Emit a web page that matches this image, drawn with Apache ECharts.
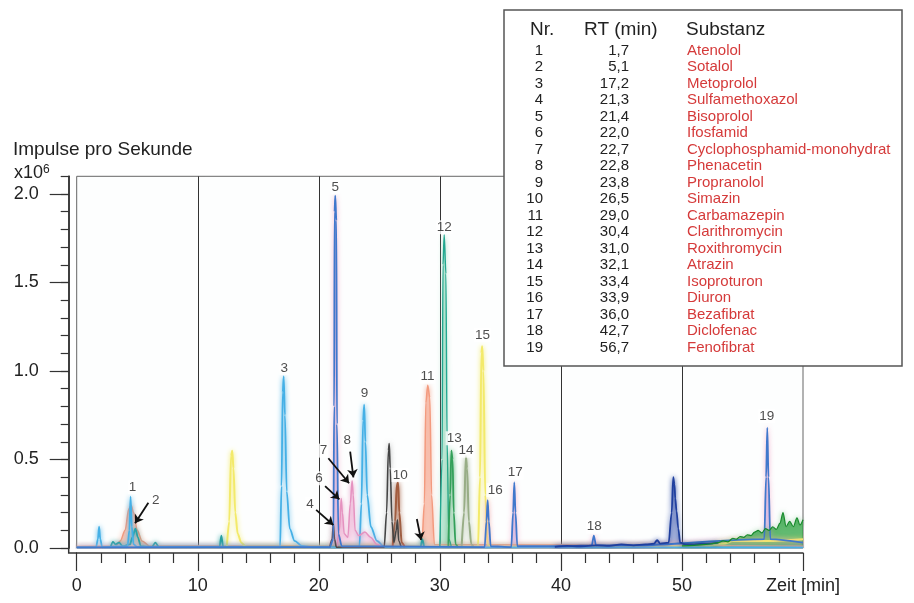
<!DOCTYPE html>
<html>
<head>
<meta charset="utf-8">
<script src="https://cdn.jsdelivr.net/npm/echarts@6/dist/echarts.min.js"></script>
<style>
  html, body { margin: 0; padding: 0; background: #fff; }
  #chart { width: 914px; height: 603px; }
</style>
</head>
<body>
<div id="chart"></div>
<script>
// Schriftart fuer alle Texte
const FONT = '"Liberation Sans", Arial, sans-serif';

// Achsenbeschriftung
const yMajorTicks = [0, 0.5, 1.0, 1.5, 2.0];

// Tabelle der Substanzen
const substanzNr = ['1', '2', '3', '4', '5', '6', '7', '8', '9', '10',
  '11', '12', '13', '14', '15', '16', '17', '18', '19'];
const retentionszeit = ['1,7', '5,1', '17,2', '21,3', '21,4', '22,0', '22,7', '22,8', '23,8', '26,5',
  '29,0', '30,4', '31,0', '32,1', '33,4', '33,9', '36,0', '42,7', '56,7'];
const substanzen = ['Atenolol', 'Sotalol', 'Metoprolol', 'Sulfamethoxazol', 'Bisoprolol', 'Ifosfamid',
  'Cyclophosphamid-monohydrat', 'Phenacetin', 'Propranolol', 'Simazin', 'Carbamazepin',
  'Clarithromycin', 'Roxithromycin', 'Atrazin', 'Isoproturon', 'Diuron', 'Bezafibrat',
  'Diclofenac', 'Fenofibrat'];

// Spuren [Zeit min, Impulse x10^6]
const spurHellblau = [[0, 0.004], [1.6, 0.004], [1.75, 0.05], [1.85, 0.12], [1.95, 0.05], [2.1, 0.004],
  [4.2, 0.01], [4.35, 0.1], [4.45, 0.29], [4.55, 0.12], [4.7, 0.02], [5.0, 0.006],
  [16.8, 0.004], [16.92, 0.35], [17.02, 0.88], [17.1, 0.97], [17.2, 0.75], [17.35, 0.32], [17.6, 0.11],
  [18.0, 0.04], [18.6, 0.012], [19.5, 0.004],
  [23.35, 0.004], [23.52, 0.25], [23.66, 0.72], [23.75, 0.81], [23.85, 0.6], [24.0, 0.3], [24.3, 0.12],
  [24.8, 0.04], [25.4, 0.008], [26, 0.004], [60, 0.004]];
const spurBlau = [[0, 0.004], [20.9, 0.005], [21.2, 0.05], [21.27, 0.8], [21.3, 1.9], [21.36, 1.99],
  [21.45, 1.85], [21.5, 0.7], [21.62, 0.08], [21.9, 0.01],
  [33.7, 0.005], [33.85, 0.15], [33.95, 0.27], [34.05, 0.15], [34.2, 0.01],
  [35.9, 0.005], [36.05, 0.2], [36.15, 0.37], [36.25, 0.2], [36.4, 0.01],
  [40, 0.01], [42.55, 0.015], [42.72, 0.07], [42.9, 0.015], [46, 0.015],
  [56.8, 0.05], [56.95, 0.4], [57.05, 0.68], [57.15, 0.4], [57.3, 0.05], [60, 0.03]];
const spurDunkelblau = [[39.5, 0.006], [40.5, 0.012], [41.5, 0.01], [43, 0.015], [44, 0.012], [45, 0.02],
  [46, 0.015], [47, 0.02], [47.7, 0.025], [47.95, 0.045], [48.2, 0.025], [48.9, 0.03], [49.15, 0.2],
  [49.28, 0.4], [49.38, 0.36], [49.45, 0.28], [49.55, 0.21], [49.7, 0.11], [49.85, 0.03], [50.3, 0.02],
  [51, 0.02], [52, 0.025], [53, 0.03]];
const spurSchwarz = [[20.9, 0.004], [21.1, 0.05], [21.2, 0.14], [21.3, 0.05], [21.45, 0.005],
  [25.4, 0.004], [25.6, 0.2], [25.75, 0.55], [25.82, 0.59], [25.9, 0.45], [26.05, 0.15], [26.2, 0.03],
  [26.4, 0.1], [26.5, 0.16], [26.6, 0.04], [26.8, 0.005]];
const spurRosa = [[21.5, 0.005], [21.7, 0.1], [21.85, 0.28], [21.95, 0.2], [22.1, 0.08], [22.4, 0.06],
  [22.6, 0.25], [22.75, 0.38], [22.85, 0.3], [23.0, 0.1], [23.3, 0.07], [23.8, 0.09], [24.3, 0.06],
  [24.8, 0.02], [25.2, 0.005]];
const spurBraun = [[26.1, 0.005], [26.3, 0.15], [26.45, 0.36], [26.55, 0.37], [26.65, 0.2], [26.85, 0.03],
  [27.1, 0.005]];
const spurLachs = [[0, 0.008], [3.2, 0.01], [3.6, 0.04], [4.0, 0.1], [4.3, 0.22], [4.5, 0.24], [4.7, 0.2],
  [5.0, 0.1], [5.4, 0.04], [6, 0.012], [28.5, 0.01], [28.72, 0.25], [28.84, 0.82], [29.0, 0.92],
  [29.17, 0.85], [29.32, 0.3], [29.55, 0.02], [60, 0.01]];
const spurGelb = [[12.4, 0.005], [12.6, 0.15], [12.75, 0.52], [12.85, 0.55], [12.95, 0.45], [13.1, 0.2],
  [13.3, 0.08], [13.6, 0.03], [14, 0.005],
  [33.15, 0.005], [33.32, 0.4], [33.43, 1.1], [33.5, 1.14], [33.6, 1.0], [33.75, 0.3], [33.95, 0.02],
  [34.3, 0.005], [52, 0.01], [53.5, 0.025], [54.2, 0.04], [57, 0.04], [60, 0.05]];
const spurPetrol = [[2.8, 0.005], [3.0, 0.035], [3.2, 0.02], [3.5, 0.03], [3.8, 0.01], [4.4, 0.02],
  [4.6, 0.06], [4.85, 0.11], [5.05, 0.06], [5.3, 0.01], [6.2, 0.005], [6.5, 0.03], [6.8, 0.005],
  [11.8, 0.005], [11.95, 0.07], [12.1, 0.005], [28.4, 0.005], [28.55, 0.05], [28.7, 0.005]];
const spurSeegruen = [[30.0, 0.005], [30.18, 0.5], [30.26, 1.6], [30.36, 1.77], [30.5, 1.55], [30.6, 0.6],
  [30.75, 0.05], [30.95, 0.005]];
const spurGruen = [[30.7, 0.005], [30.85, 0.3], [30.95, 0.55], [31.05, 0.5], [31.15, 0.2], [31.3, 0.02],
  [31.5, 0.005]];
const spurGruenEnde = [[50, 0.012], [51, 0.015], [52, 0.02], [52.5, 0.025], [53, 0.03], [53.4, 0.04],
  [53.8, 0.035], [54.2, 0.055], [54.5, 0.05], [54.8, 0.065], [55.1, 0.06], [55.4, 0.075], [55.7, 0.07],
  [56.0, 0.09], [56.3, 0.1], [56.6, 0.085], [56.9, 0.11], [57.2, 0.1], [57.5, 0.12], [57.8, 0.105],
  [58.1, 0.14], [58.35, 0.2], [58.6, 0.12], [58.9, 0.15], [59.2, 0.12], [59.5, 0.17], [59.75, 0.13],
  [60, 0.16]];
const spurOliv = [[31.8, 0.005], [32.0, 0.2], [32.15, 0.52], [32.25, 0.45], [32.4, 0.15], [32.6, 0.02],
  [32.8, 0.005]];

// Peak-Nummern [Text, Zeit, Hoehe]
const peakLabels = [['1', 4.6, 0.343], ['2', 6.53, 0.267], ['3', 17.15, 1.017], ['4', 19.27, 0.249],
  ['5', 21.35, 2.038], ['6', 20.02, 0.394], ['7', 20.38, 0.55], ['8', 22.36, 0.61], ['9', 23.77, 0.874],
  ['10', 26.72, 0.412], ['11', 28.98, 0.968], ['12', 30.36, 1.812], ['13', 31.18, 0.62],
  ['14', 32.17, 0.55], ['15', 33.52, 1.203], ['16', 34.57, 0.328], ['17', 36.22, 0.425],
  ['18', 42.75, 0.12], ['19', 57.0, 0.746]];
// Pfeile [von, nach]
const pfeile = [[[5.92, 0.256], [4.82, 0.14]], [[19.78, 0.215], [21.2, 0.13]],
  [[20.52, 0.35], [21.7, 0.275]], [[20.79, 0.507], [22.5, 0.366]], [[22.59, 0.544], [22.86, 0.399]],
  [[28.1, 0.164], [28.45, 0.045]]];

function spur(data, color, width, area, halo) {
  return {
    type: 'line',
    data: data,
    symbol: 'none',
    smooth: 0.3,
    smoothMonotone: 'x',
    silent: true,
    lineStyle: { color: color, width: width, shadowBlur: 5, shadowColor: halo || color },
    areaStyle: area ? { color: area } : undefined,
  };
}

const tabellenTexte = [];
[['Nr.', 530], ['RT (min)', 584], ['Substanz', 686]].forEach(([t, x]) => {
  tabellenTexte.push({
    type: 'text', x: x, y: 30, z: 101,
    style: { text: t, fontSize: 19, fontFamily: FONT, fill: '#222', align: 'left', verticalAlign: 'middle' },
  });
});
substanzen.forEach((name, i) => {
  const y = 50.5 + i * 16.5;
  tabellenTexte.push(
    { type: 'text', x: 543, y: y, z: 101,
      style: { text: substanzNr[i], fontSize: 15, fontFamily: FONT, fill: '#222', align: 'right', verticalAlign: 'middle' } },
    { type: 'text', x: 629, y: y, z: 101,
      style: { text: retentionszeit[i], fontSize: 15, fontFamily: FONT, fill: '#222', align: 'right', verticalAlign: 'middle' } },
    { type: 'text', x: 687, y: y, z: 101,
      style: { text: name, fontSize: 15, fontFamily: FONT, fill: '#d53a3a', align: 'left', verticalAlign: 'middle' } }
  );
});

const achsenLinie = { color: '#333', width: 1.5 };
const tickLinie = { color: '#333', width: 1.2 };

const chart = echarts.init(document.getElementById('chart'));
chart.setOption({
  animation: false,
  textStyle: { fontFamily: FONT },
  title: [
    { text: 'Impulse pro Sekunde', left: 13, top: 140, padding: 0,
      textStyle: { fontSize: 19, fontWeight: 'normal', color: '#222', fontFamily: FONT } },
    { text: 'x10{s|6}', left: 14, top: 164, padding: 0,
      textStyle: { fontSize: 18, fontWeight: 'normal', color: '#222', fontFamily: FONT,
        rich: { s: { fontSize: 12, verticalAlign: 'top', color: '#222', fontFamily: FONT } } } },
  ],
  grid: {
    left: 76.7, right: 111, top: 176.3, bottom: 55,
    show: true, borderColor: '#666', borderWidth: 1, backgroundColor: '#fdfefe',
  },
  xAxis: {
    type: 'value', min: 0, max: 60, interval: 10, offset: 5,
    axisLine: { show: true, onZero: false, lineStyle: achsenLinie },
    axisTick: { show: true, length: 18, lineStyle: tickLinie },
    minorTick: { show: true, splitNumber: 5, length: 10, lineStyle: tickLinie },
    axisLabel: { margin: 24, fontSize: 18, color: '#222',
      formatter: v => (v === 60 ? 'Zeit [min]' : String(v)) },
    splitLine: { show: true, showMinLine: false, showMaxLine: false, lineStyle: { color: '#333', width: 1 } },
  },
  yAxis: [
    {
      type: 'value', position: 'left', offset: 8, min: 0, max: 2.1, interval: 0.1,
      axisLine: { show: true, onZero: false, lineStyle: achsenLinie },
      axisTick: { show: true, length: 8, lineStyle: tickLinie },
      axisLabel: { show: false },
      splitLine: { show: false },
    },
    {
      type: 'value', position: 'left', offset: 8, min: 0, max: 2.1, interval: 0.5,
      axisLine: { show: true, onZero: false, lineStyle: achsenLinie },
      axisTick: { show: true, length: 19, customValues: yMajorTicks, lineStyle: tickLinie },
      axisLabel: { margin: 30, fontSize: 18, color: '#222', customValues: yMajorTicks,
        formatter: v => (v > 2.05 ? '' : v.toFixed(1)) },
      splitLine: { show: false },
    },
  ],
  graphic: [
    { type: 'polyline', z: 50, shape: { points: [[68.7, 548], [68.7, 553], [77, 553]] },
      style: { stroke: '#333', lineWidth: 1.5, fill: null } },
    { type: 'rect', z: 100, shape: { x: 504, y: 10, width: 398, height: 356 },
      style: { fill: '#fff', stroke: '#555', lineWidth: 1.5 } },
  ].concat(tabellenTexte),
  series: [
    spur(spurLachs, '#f39a7e', 1.5, 'rgba(243,140,110,0.65)'),
    spur(spurGelb, '#f3ea6a', 2, null),
    spur(spurPetrol, '#26a0a0', 1.8, null),
    spur(spurHellblau, '#45b0e6', 1.8, null),
    spur(spurRosa, '#e592c0', 1.5, 'rgba(235,160,205,0.5)'),
    spur(spurBraun, '#a35c3e', 2, 'rgba(190,120,95,0.35)'),
    spur(spurSchwarz, '#444', 1.6, null, 'rgba(120,120,120,0.6)'),
    spur(spurOliv, '#98ad86', 2, null),
    spur(spurSeegruen, '#22a890', 1.4, 'rgba(150,215,185,0.8)', 'rgba(150,215,185,0.9)'),
    spur(spurGruen, '#33a05a', 1.8, null),
    spur(spurBlau, '#4078cc', 1.8, 'rgba(150,135,215,0.55)', 'rgba(240,150,190,0.8)'),
    spur(spurDunkelblau, '#1f3f9e', 1.8, 'rgba(40,70,170,0.55)'),
    spur(spurGruenEnde, '#178a2c', 1.2, '#1f9d35', 'rgba(30,150,50,0.6)'),
    {
      type: 'scatter',
      data: peakLabels.map(p => ({ name: p[0], value: [p[1], p[2]] })),
      symbolSize: 1,
      itemStyle: { color: 'rgba(0,0,0,0)' },
      silent: true,
      z: 20,
      label: {
        show: true, position: 'inside', formatter: '{b}', fontSize: 13.5, color: '#222',
        backgroundColor: '#fff', padding: [0, 1],
      },
      markLine: {
        silent: true, symbol: ['none', 'arrow'], symbolSize: 8,
        label: { show: false },
        lineStyle: { color: '#111', width: 1.8, type: 'solid' },
        data: pfeile.map(a => [{ coord: a[0] }, { coord: a[1] }]),
      },
    },
  ],
});
</script>
</body>
</html>
